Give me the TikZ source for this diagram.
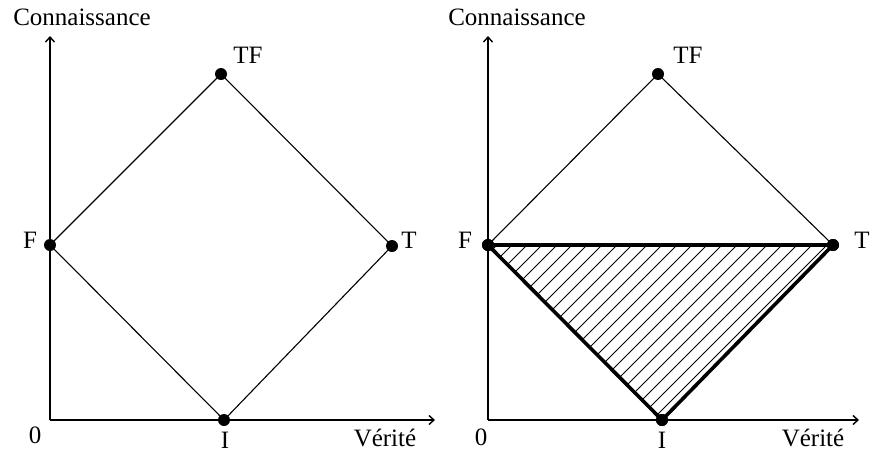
\documentclass[tikz,border=0pt]{standalone}
\usepackage{fontspec}
\setmainfont{Liberation Serif}
\usetikzlibrary{arrows.meta}
\begin{document}
\begin{tikzpicture}[x=1pt,y=-1pt,
  dot/.style={circle,fill=black,inner sep=0pt,minimum size=12pt},
  lab/.style={inner sep=0pt,font=\fontsize{25}{30}\selectfont},
  axis/.style={line width=1.8pt,-{Straight Barb[length=5pt,width=9pt,line width=1.4pt]}},
  thin/.style={line width=1.1pt},
  thick3/.style={line width=3.6pt,line cap=round},
  hatch/.style={line width=0.9pt}]
\useasboundingbox (0,0) rectangle (873,461);
% ---------- left diagram ----------
\coordinate (O1) at (50,420);
\coordinate (Y1) at (50,36);
\coordinate (X1) at (435,420);
\draw[axis] (O1) -- (Y1);
\draw[axis] (O1) -- (X1);
\node[dot] (F1) at (50,245) {};
\node[dot] (TF1) at (221,74) {};
\node[dot] (T1) at (392,246) {};
\node[dot] (I1) at (224,420) {};
\draw[thin] (F1.center) -- (TF1.center) -- (T1.center) -- (I1.center) -- cycle;
\node[lab] (conn1) at (82,17) {Connaissance};
\node[lab] (tfl1) at (248,55) {TF};
\node[lab] (fl1) at (30,240) {F};
\node[lab] (tl1) at (409,240) {T};
\node[lab] (zero1) at (35,435) {0};
\node[lab] (il1) at (225,440) {I};
\node[lab] (ver1) at (385,438) {Vérité};
% ---------- right diagram ----------
\coordinate (O2) at (488,420);
\coordinate (Y2) at (488,36);
\coordinate (X2) at (859,420);
\node[dot] (F2) at (488,245) {};
\node[dot] (TF2) at (658,74) {};
\node[dot] (T2) at (833,245) {};
\node[dot] (I2) at (662,420) {};
\begin{scope}
  \clip (F2.center) -- (T2.center) -- (I2.center) -- cycle;
  \foreach \c in {742,757,...,1082}
    \draw[hatch] (\c-420,420) -- (\c-245,245);
\end{scope}
\draw[axis] (O2) -- (Y2);
\draw[axis] (O2) -- (X2);
\draw[thin] (F2.center) -- (TF2.center) -- (T2.center);
\draw[thick3] (F2.center) -- (T2.center) -- (I2.center) -- cycle;
\node[dot] at (F2) {};
\node[dot] at (T2) {};
\node[dot] at (I2) {};
\node[lab] (conn2) at (517,17) {Connaissance};
\node[lab] (tfl2) at (688,55) {TF};
\node[lab] (fl2) at (465,240) {F};
\node[lab] (tl2) at (862,240) {T};
\node[lab] (zero2) at (481,437) {0};
\node[lab] (il2) at (662,440) {I};
\node[lab] (ver2) at (813,438) {Vérité};
\end{tikzpicture}
\end{document}
